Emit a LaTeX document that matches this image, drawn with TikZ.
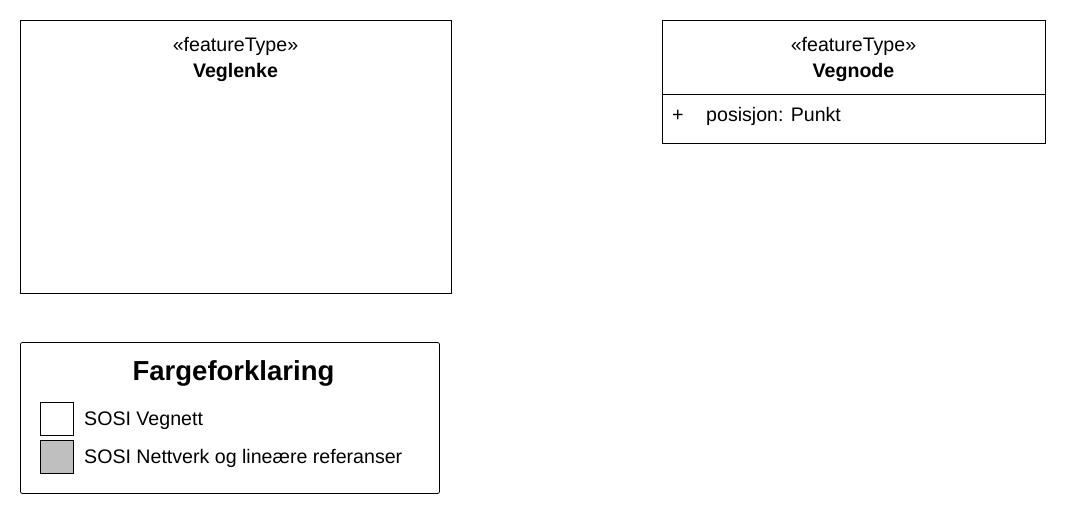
\documentclass[tikz,border=0pt]{standalone}
\usepackage{fontspec}
\setmainfont{Liberation Sans}
\begin{document}
\begin{tikzpicture}[x=1pt,y=-1pt,
  box/.style={draw=black,line width=0.8pt,fill=white},
  txt/.style={inner sep=0pt,font=\fontsize{19.6}{22}\selectfont},
  btxt/.style={inner sep=0pt,font=\fontsize{19.6}{22}\selectfont\bfseries},
  ttl/.style={inner sep=0pt,font=\fontsize{27.5}{31}\selectfont\bfseries},
  swatch/.style={draw=black,line width=0.8pt}]
\useasboundingbox (0,0) rectangle (1066,514);
% Veglenke
\draw[box] (20.5,20.5) rectangle (451.5,293.5);
\node[txt,anchor=base] (s1) at (235.5,51) {«featureType»};
\node[btxt,anchor=base] (n1) at (235.5,77) {Veglenke};
% Vegnode
\draw[box] (662.5,20.5) rectangle (1045.5,143.5);
\draw[line width=0.8pt] (662.5,94.5) -- (1045.5,94.5);
\node[txt,anchor=base] (s2) at (853.5,51) {«featureType»};
\node[btxt,anchor=base] (n2) at (853.5,77) {Vegnode};
\node[txt,anchor=base west] (p) at (672,121) {+};
\node[txt,anchor=base west] (a) at (706,121) {posisjon: Punkt};
% Legend
\draw[box,rounded corners=2pt] (20.5,342.5) rectangle (439.5,493.5);
\node[ttl,anchor=base] (lt) at (233.5,380) {Fargeforklaring};
\draw[swatch,fill=white] (40.5,402.5) rectangle (73.5,435.5);
\draw[swatch,fill=black!25] (40.5,440.5) rectangle (73.5,473.5);
\node[txt,anchor=base west] (l1) at (84,425) {SOSI Vegnett};
\node[txt,anchor=base west] (l2) at (84,463) {SOSI Nettverk og lineære referanser};
\end{tikzpicture}
\end{document}
